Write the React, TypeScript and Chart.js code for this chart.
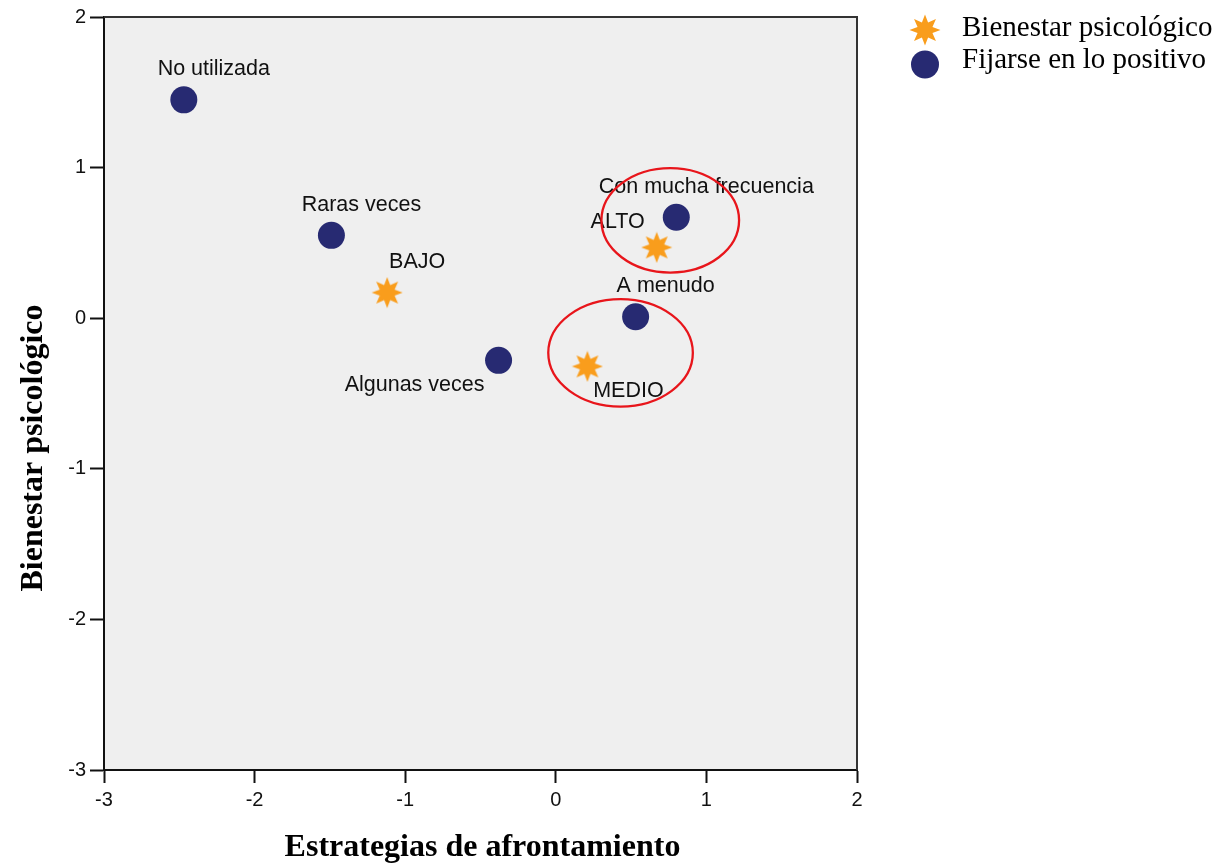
import React, { useEffect, useRef } from "react";
import { Chart, registerables } from "chart.js";

Chart.register(...registerables);

// ---- Data ----
const seriesNames = ["Bienestar psicológico", "Fijarse en lo positivo"];

const bienestarLabels = ["BAJO", "MEDIO", "ALTO"];
const bienestarX = [-1.12, 0.21, 0.67];
const bienestarY = [0.17, -0.32, 0.47];

const fijarseLabels = ["No utilizada", "Raras veces", "Algunas veces", "A menudo", "Con mucha frecuencia"];
const fijarseX = [-2.47, -1.49, -0.38, 0.53, 0.8];
const fijarseY = [1.45, 0.55, -0.28, 0.01, 0.67];

const axisMin = -3;
const axisMax = 2;
const tickStep = 1;

const xAxisTitle = "Estrategias de afrontamiento";
const yAxisTitle = "Bienestar psicológico";

// highlighted groups (red ellipses), in data units
const highlightCenterX = [0.76, 0.43];
const highlightCenterY = [0.65, -0.23];
const highlightRadiusX = [0.457, 0.48];
const highlightRadiusY = [0.347, 0.357];

// ---- Styling ----
const bienestarPlacement = ["above", "belowRight", "upperLeft"];
const fijarsePlacement = ["above", "above", "belowLeft", "above", "above"];
const placementOffsets: Record<string, [number, number]> = {
  above: [30, -30.5],
  upperLeft: [-39, -25],
  belowLeft: [-84, 25],
  belowRight: [41, 25],
};

const ORANGE = "#F99D1C";
const NAVY = "#272A72";
const PLOT_BG = "#EFEFEF";
const SANS = "'Liberation Sans', Arial, sans-serif";
const SERIF = "'Liberation Serif', 'Times New Roman', serif";

function makeStar(size: number, color: string): HTMLCanvasElement {
  const c = document.createElement("canvas");
  c.width = size;
  c.height = size;
  const ctx = c.getContext("2d")!;
  const cx = size / 2;
  const cy = size / 2;
  const outer = size / 2 - 0.5;
  const inner = outer * 0.52;
  ctx.beginPath();
  for (let i = 0; i < 16; i++) {
    const r = i % 2 === 0 ? outer : inner;
    const a = -Math.PI / 2 + (i * Math.PI) / 8;
    const px = cx + r * Math.cos(a);
    const py = cy + r * Math.sin(a);
    if (i === 0) ctx.moveTo(px, py);
    else ctx.lineTo(px, py);
  }
  ctx.closePath();
  ctx.fillStyle = color;
  ctx.fill();
  return c;
}

export default function App() {
  const canvasRef = useRef<HTMLCanvasElement | null>(null);

  useEffect(() => {
    if (!canvasRef.current) return;
    const star = makeStar(32, ORANGE);

    const decorPlugin = {
      id: "decor",
      beforeDraw(chart: any) {
        const { ctx, chartArea } = chart;
        ctx.save();
        ctx.fillStyle = PLOT_BG;
        ctx.fillRect(chartArea.left, chartArea.top, chartArea.right - chartArea.left, chartArea.bottom - chartArea.top);
        ctx.restore();
      },
      beforeDatasetsDraw(chart: any) {
        const { ctx, chartArea } = chart;
        ctx.save();
        ctx.strokeStyle = "#333";
        ctx.lineWidth = 2;
        ctx.beginPath();
        ctx.moveTo(chartArea.left, chartArea.top);
        ctx.lineTo(chartArea.right, chartArea.top);
        ctx.lineTo(chartArea.right, chartArea.bottom);
        ctx.stroke();
        ctx.restore();
      },
      afterDatasetsDraw(chart: any) {
        const { ctx } = chart;
        const xs = chart.scales.x;
        const ys = chart.scales.y;
        ctx.save();
        ctx.font = `21.5px ${SANS}`;
        ctx.fillStyle = "#111";
        ctx.textAlign = "center";
        ctx.textBaseline = "middle";
        const drawLabels = (labels: string[], xv: number[], yv: number[], pl: string[]) => {
          labels.forEach((t, i) => {
            const [dx, dy] = placementOffsets[pl[i]];
            ctx.fillText(t, xs.getPixelForValue(xv[i]) + dx, ys.getPixelForValue(yv[i]) + dy);
          });
        };
        drawLabels(fijarseLabels, fijarseX, fijarseY, fijarsePlacement);
        drawLabels(bienestarLabels, bienestarX, bienestarY, bienestarPlacement);

        ctx.strokeStyle = "#E8151B";
        ctx.lineWidth = 2.3;
        highlightCenterX.forEach((cxv, i) => {
          const cx = xs.getPixelForValue(cxv);
          const cy = ys.getPixelForValue(highlightCenterY[i]);
          const rx = Math.abs(xs.getPixelForValue(cxv + highlightRadiusX[i]) - cx);
          const ry = Math.abs(ys.getPixelForValue(highlightCenterY[i] + highlightRadiusY[i]) - cy);
          ctx.beginPath();
          ctx.ellipse(cx, cy, rx, ry, 0, 0, Math.PI * 2);
          ctx.stroke();
        });
        ctx.restore();
      },
      afterDraw(chart: any) {
        const { ctx, chartArea } = chart;
        ctx.save();
        ctx.fillStyle = "#000";
        ctx.font = `bold 32px ${SERIF}`;
        ctx.textAlign = "center";
        ctx.textBaseline = "middle";
        ctx.fillText(xAxisTitle, (chartArea.left + chartArea.right) / 2 + 2, chartArea.bottom + 78);
        ctx.save();
        ctx.translate(34, 448);
        ctx.rotate(-Math.PI / 2);
        ctx.fillText(yAxisTitle, 0, 0);
        ctx.restore();

        // legend
        const lx = chartArea.right + 68;
        const rowY = [30, 64.5];
        ctx.drawImage(star, lx - 16, rowY[0] - 16, 32, 32);
        ctx.fillStyle = NAVY;
        ctx.beginPath();
        ctx.arc(lx, rowY[1], 14, 0, Math.PI * 2);
        ctx.fill();
        ctx.fillStyle = "#000";
        ctx.font = `29px ${SERIF}`;
        ctx.textAlign = "left";
        ctx.textBaseline = "alphabetic";
        ctx.fillText(seriesNames[0], lx + 37, 36);
        ctx.fillText(seriesNames[1], lx + 37, 68);
        ctx.restore();
      },
    };

    const chart = new Chart(canvasRef.current, {
      type: "scatter",
      data: {
        datasets: [
          {
            label: seriesNames[0],
            data: bienestarX.map((x, i) => ({ x, y: bienestarY[i] })),
            pointStyle: star as any,
            pointRadius: 16,
            backgroundColor: ORANGE,
            borderColor: ORANGE,
          },
          {
            label: seriesNames[1],
            data: fijarseX.map((x, i) => ({ x, y: fijarseY[i] })),
            pointStyle: "circle",
            pointRadius: 13.5,
            backgroundColor: NAVY,
            borderColor: NAVY,
            borderWidth: 0,
          },
        ],
      },
      options: {
        animation: false,
        responsive: true,
        maintainAspectRatio: false,
        layout: { padding: { left: 0, top: 14, right: 375, bottom: 0 } },
        plugins: {
          legend: { display: false },
          tooltip: { enabled: false },
        },
        scales: {
          x: {
            type: "linear",
            min: axisMin,
            max: axisMax,
            ticks: {
              stepSize: tickStep,
              font: { family: SANS, size: 20 },
              color: "#111",
              padding: 5,
              maxRotation: 0,
            },
            grid: {
              drawOnChartArea: false,
              drawTicks: true,
              tickLength: 13,
              tickColor: "#111",
              tickWidth: 2,
            },
            border: { display: true, color: "#111", width: 2 },
            afterFit(scale: any) {
              scale.height = 97;
              scale.paddingLeft = 0;
              scale.paddingRight = 0;
            },
          },
          y: {
            type: "linear",
            min: axisMin,
            max: axisMax,
            ticks: {
              stepSize: tickStep,
              font: { family: SANS, size: 20 },
              color: "#111",
              padding: 4,
            },
            grid: {
              drawOnChartArea: false,
              drawTicks: true,
              tickLength: 14,
              tickColor: "#111",
              tickWidth: 2,
            },
            border: { display: true, color: "#111", width: 2 },
            afterFit(scale: any) {
              scale.width = 104;
              scale.paddingTop = 0;
              scale.paddingBottom = 0;
            },
          },
        },
      },
      plugins: [decorPlugin],
    });
    return () => chart.destroy();
  }, []);

  return (
    <div style={{ position: "absolute", left: 0, top: 0, width: 1232, height: 867, background: "#fff" }}>
      <canvas ref={canvasRef} />
    </div>
  );
}
